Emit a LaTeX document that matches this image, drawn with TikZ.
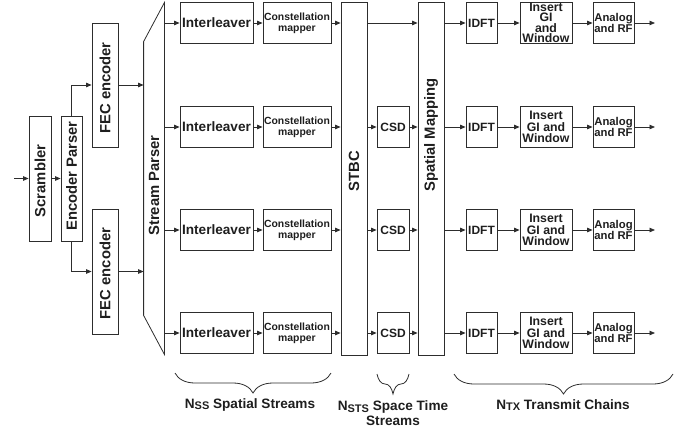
\documentclass[tikz,border=0pt]{standalone}
\usepackage{fontspec}
\setmainfont{Liberation Sans}
\usepackage{graphicx}
\usetikzlibrary{arrows.meta,calc,decorations.pathreplacing}
\definecolor{cLine}{RGB}{45,45,45}
\definecolor{cText}{RGB}{30,30,30}
\newcommand{\vlab}[2][0pt]{\rotatebox{90}{\hspace*{#1}#2}} % rotated label, #1/2 = shift up
\tikzset{
  >={Triangle[length=5.5pt,width=4.5pt]},
  blk/.style={draw=cLine,line width=0.8pt,inner sep=0pt,align=center,text=cText},
  vbox/.style={blk,font=\fontsize{14.8}{15}\selectfont\bfseries},
  ilbox/.style={blk,minimum width=73pt,minimum height=41pt,font=\fontsize{13.6}{14}\selectfont\bfseries},
  cmbox/.style={blk,minimum width=68pt,minimum height=41pt,font=\fontsize{10.4}{11.2}\selectfont\bfseries},
  csdbox/.style={blk,minimum width=32pt,minimum height=41pt,font=\fontsize{12}{12}\selectfont\bfseries},
  idftbox/.style={blk,minimum width=31pt,minimum height=41pt,font=\fontsize{12}{12}\selectfont\bfseries},
  gibox/.style={blk,minimum width=52pt,minimum height=41pt,font=\fontsize{12.3}{11.3}\selectfont\bfseries},
  gitight/.style={gibox,font=\fontsize{12.3}{10.4}\selectfont\bfseries},
  rfbox/.style={blk,minimum width=41pt,minimum height=41pt,font=\fontsize{11.3}{11}\selectfont\bfseries},
  flow/.style={->,draw=cLine,line width=0.8pt},
  brc/.style={decorate,decoration={brace,mirror,amplitude=20pt},draw=cLine,line width=0.8pt},
  lbl/.style={align=center,text=cText,font=\fontsize{13.6}{15}\selectfont\bfseries},
}
\newcommand{\sub}[1]{\raisebox{-1.3pt}{\fontsize{11}{11}\selectfont #1}}

\begin{document}
\begin{tikzpicture}[x=1pt,y=-1pt]
  \useasboundingbox (0,0) rectangle (688,428);

  % scrambler, encoder parser and the two FEC encoders
  \coordinate (in) at (14,178.5);
  \node[vbox,minimum width=22pt,minimum height=125pt] (scr)  at (40,178.5)  {\vlab[-5pt]{Scrambler}};
  \node[vbox,minimum width=21pt,minimum height=125pt] (encp) at (71.5,178.5){\vlab[5pt]{Encoder Parser}};
  \node[vbox,minimum width=26pt,minimum height=124pt] (fec1) at (105,85)    {\vlab[-6pt]{FEC encoder}};
  \node[vbox,minimum width=26pt,minimum height=125pt] (fec2) at (105,271.5) {\vlab[-4pt]{FEC encoder}};
  \draw[flow] (in) -- (scr);
  \draw[flow] (scr) -- (encp);
  \draw[flow] (encp.north) |- (fec1.west);
  \draw[flow] (encp.south) |- (fec2.west);

  % stream parser: trapezoid round an empty node
  \node[vbox,draw=none,minimum width=20pt,minimum height=351pt] (sp) at (154,178.5) {\vlab[-14pt]{Stream Parser}};
  \draw[cLine,line width=0.8pt] (sp.north east) -- (sp.south east)
    -- ([yshift=39pt]sp.south west) -- ([yshift=-39pt]sp.north west) -- cycle;
  \draw[flow] (fec1.east) -- (fec1.east -| sp.west);
  \draw[flow] (fec2.east) -- (fec2.east -| sp.west);

  % STBC and spatial mapping
  \node[vbox,minimum width=26pt,minimum height=353pt] (stbc) at (354,178.5) {\vlab[15pt]{STBC}};
  \node[vbox,minimum width=26pt,minimum height=353pt] (sm)   at (431,178.5) {\vlab[87pt]{Spatial Mapping}};

  % per-stream blocks
  \foreach \r/\y in {1/23,2/127,3/230,4/333}{
    \node[ilbox]   (il\r)   at (216.5,\y) {Interleaver};
    \node[cmbox]   (cm\r)   at (297,\y)   {Constellation\\mapper};
    \node[idftbox] (idft\r) at (481.5,\y) {IDFT};
    \node[rfbox]   (rf\r)   at (613.5,\y) {Analog\\and RF};
    \coordinate (out\r) at (655,\y);
  }
  \node[gitight] (gi1) at (546,23) {Insert\\GI\\and\\Window};
  \foreach \r/\y in {2/127,3/230,4/333}{
    \node[gibox]  (gi\r)  at (546,\y) {Insert\\GI and\\Window};
    \node[csdbox] (csd\r) at (393,\y) {CSD};
  }

  % connectors along each chain
  \foreach \r in {1,...,4}{
    \draw[flow] (sp.east |- il\r) -- (il\r);
    \draw[flow] (il\r) -- (cm\r);
    \draw[flow] (cm\r) -- (stbc.west |- cm\r);
    \draw[flow] (sm.east |- idft\r) -- (idft\r);
    \draw[flow] (idft\r) -- (gi\r);
    \draw[flow] (gi\r) -- (rf\r);
    \draw[flow] (rf\r) -- (out\r);
  }
  \draw[flow] (stbc.east |- cm1) -- (sm.west |- cm1);
  \foreach \r in {2,3,4}{
    \draw[flow] (stbc.east |- csd\r) -- (csd\r);
    \draw[flow] (csd\r) -- (sm.west |- csd\r);
  }

  % braces and stream counts
  \coordinate (b1a) at (175,373); \coordinate (b1b) at (331,373);
  \coordinate (b2a) at (377,374); \coordinate (b2b) at (409,374);
  \coordinate (b3a) at (454,374); \coordinate (b3b) at (673,374);
  \draw[brc] (b1a) -- (b1b);
  \draw[brc] (b2a) -- (b2b);
  \draw[brc] (b3a) -- (b3b);
  \node[lbl] (nss)  at (250,405)   {N\sub{SS} Spatial Streams};
  \node[lbl] (nsts) at (393,413.5) {N\sub{STS} Space Time\\Streams};
  \node[lbl] (ntx)  at (563,405)   {N\sub{TX} Transmit Chains};
\end{tikzpicture}
\end{document}
